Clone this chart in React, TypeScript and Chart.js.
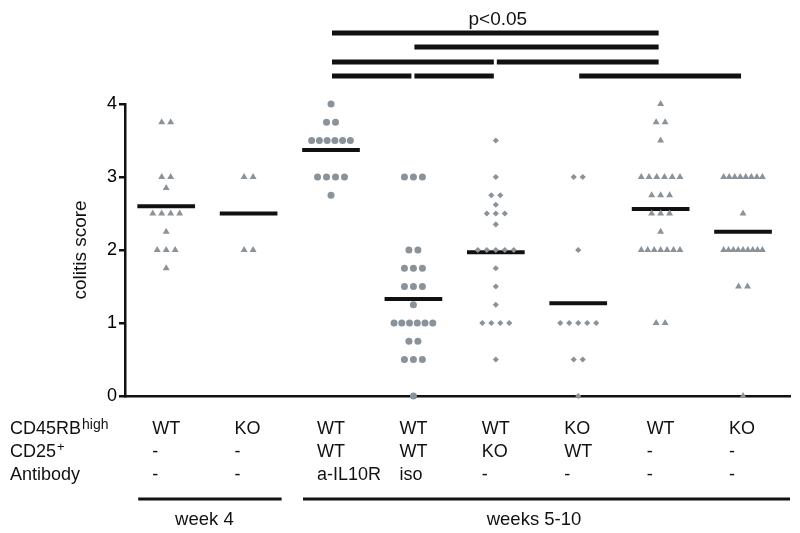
import React, { useEffect, useRef } from 'react';
import { Chart, registerables } from 'chart.js';

Chart.register(...registerables);

// ---------- data ----------
const cd45Labels = ['WT', 'KO', 'WT', 'WT', 'WT', 'KO', 'WT', 'KO'];
const cd25Labels = ['-', '-', 'WT', 'WT', 'KO', 'WT', '-', '-'];
const antibodyLabels = ['-', '-', 'a-IL10R', 'iso', '-', '-', '-', '-'];
const markerShapes = ['triangle', 'triangle', 'circle', 'circle', 'rectRot', 'rectRot', 'triangle', 'triangle'];

const wtWeek4 = [3.75, 3.75, 3, 3, 2.85, 2.5, 2.5, 2.5, 2.5, 2.25, 2, 2, 2, 1.75];
const koWeek4 = [3, 3, 2, 2];
const wtWtAntiIL10R = [4, 3.75, 3.75, 3.5, 3.5, 3.5, 3.5, 3.5, 3.5, 3, 3, 3, 3, 2.75];
const wtWtIso = [3, 3, 3, 2, 2, 1.75, 1.75, 1.75, 1.5, 1.5, 1.5, 1.25, 1, 1, 1, 1, 1, 1, 0.75, 0.75, 0.5, 0.5, 0.5, 0];
const wtKo = [3.5, 3, 2.75, 2.75, 2.62, 2.5, 2.5, 2.5, 2.35, 2, 2, 2, 2, 2, 1.75, 1.5, 1.25, 1, 1, 1, 1, 0.5];
const koWt = [3, 3, 2, 1, 1, 1, 1, 1, 0.5, 0.5, 0];
const wtAlone = [4, 3.75, 3.75, 3.5, 3, 3, 3, 3, 3, 3, 2.75, 2.75, 2.75, 2.5, 2.5, 2.5, 2.25, 2, 2, 2, 2, 2, 2, 2, 1, 1];
const koAlone = [3, 3, 3, 3, 3, 3, 3, 3, 2.5, 2, 2, 2, 2, 2, 2, 2, 2, 2, 1.5, 1.5, 0];
const scores = [wtWeek4, koWeek4, wtWtAntiIL10R, wtWtIso, wtKo, koWt, wtAlone, koAlone];

const groupMeans = [2.6, 2.5, 3.37, 1.33, 1.97, 1.27, 2.56, 2.25];
const yTicks = [0, 1, 2, 3, 4];

const periodLabels = ['week 4', 'weeks 5-10'];
const periodFrom = [0, 2];
const periodTo = [1, 7];

// [groupA, groupB, row]
const comparisons: [number, number, number][] = [
  [2, 6, 0],
  [3, 6, 1],
  [2, 4, 2],
  [4, 6, 2],
  [2, 3, 3],
  [3, 4, 3],
  [5, 7, 3],
];
const significanceLabel = 'p<0.05';

// ---------- layout / style ----------
const FONT = '"Liberation Sans", Arial, Helvetica, sans-serif';
const POINT_COLOR = '#8b939a';
const INK = '#111111';
const STEP = 0.109; // horizontal spacing between tied points (x units)
const CAP = 0.47; // max width of a row of tied points (x units)
const MEAN_HALF = 0.35;
const BAR_ROWS_Y = [33, 47, 62, 76];
const TABLE_ROWS_Y = [434, 457, 480];
const PERIOD_LINE_Y = 499;
const PERIOD_TEXT_Y = 525;

function swarm(values: number[], idx: number) {
  const counts = new Map<number, number>();
  values.forEach((v) => counts.set(v, (counts.get(v) || 0) + 1));
  const seen = new Map<number, number>();
  return values.map((v) => {
    const n = counts.get(v)!;
    const k = seen.get(v) || 0;
    seen.set(v, k + 1);
    const step = n > 1 ? Math.min(STEP, CAP / (n - 1)) : 0;
    return { x: idx + (k - (n - 1) / 2) * step, y: v };
  });
}

const radiusFor = (shape: string) => (shape === 'triangle' ? 4 : shape === 'circle' ? 3.5 : 3.1);

const annotationPlugin = {
  id: 'annotations',
  afterDraw(chart: any) {
    const { ctx, chartArea } = chart;
    const xs = chart.scales.x;
    const px = (v: number) => xs.getPixelForValue(v);
    ctx.save();
    ctx.fillStyle = INK;
    ctx.textBaseline = 'alphabetic';

    // y-axis title
    ctx.save();
    ctx.translate(81, (chartArea.top + chartArea.bottom) / 2);
    ctx.rotate(-Math.PI / 2);
    ctx.textAlign = 'center';
    ctx.textBaseline = 'middle';
    ctx.font = `19px ${FONT}`;
    ctx.fillText('colitis score', 0, 0);
    ctx.restore();

    // significance bars
    comparisons.forEach(([a, b, row]) => {
      const xa = px(a) + 1;
      const xb = px(b) - 2;
      ctx.fillRect(xa, BAR_ROWS_Y[row] - 2.5, xb - xa, 5);
    });
    ctx.textAlign = 'center';
    ctx.font = `19px ${FONT}`;
    const top = comparisons[0];
    ctx.fillText(significanceLabel, (px(top[0]) + px(top[1])) / 2 + 2, 25);

    // row headers
    ctx.textAlign = 'left';
    ctx.font = `18px ${FONT}`;
    ctx.fillText('CD45RB', 10, TABLE_ROWS_Y[0]);
    let w = ctx.measureText('CD45RB').width;
    ctx.font = `14px ${FONT}`;
    ctx.fillText('high', 10 + w + 1, TABLE_ROWS_Y[0] - 5);
    ctx.font = `18px ${FONT}`;
    ctx.fillText('CD25', 10, TABLE_ROWS_Y[1]);
    w = ctx.measureText('CD25').width;
    ctx.font = `13px ${FONT}`;
    ctx.fillText('+', 10 + w + 1, TABLE_ROWS_Y[1] - 6);
    ctx.font = `18px ${FONT}`;
    ctx.fillText('Antibody', 10, TABLE_ROWS_Y[2]);

    // group columns
    const rows = [cd45Labels, cd25Labels, antibodyLabels];
    rows.forEach((labels, r) => {
      labels.forEach((t, i) => {
        ctx.fillText(t, px(i) - 14, TABLE_ROWS_Y[r]);
      });
    });

    // periods
    ctx.font = `18.5px ${FONT}`;
    periodLabels.forEach((label, i) => {
      const x0 = px(periodFrom[i]) - 28;
      const x1 = i === periodLabels.length - 1 ? chartArea.right : px(periodTo[i]) + 33;
      ctx.fillRect(x0, PERIOD_LINE_Y - 1.5, x1 - x0, 3);
      ctx.textAlign = 'center';
      ctx.fillText(label, (px(periodFrom[i]) + px(periodTo[i])) / 2 - 3, PERIOD_TEXT_Y);
    });

    ctx.restore();
  },
};

export default function App() {
  const canvasRef = useRef<HTMLCanvasElement | null>(null);

  useEffect(() => {
    if (!canvasRef.current) return;
    const pointSets = scores.map((vals, i) => ({
      type: 'scatter' as const,
      label: `g${i}`,
      data: swarm(vals, i),
      pointStyle: markerShapes[i] as any,
      pointRadius: radiusFor(markerShapes[i]),
      pointBackgroundColor: POINT_COLOR,
      pointBorderColor: POINT_COLOR,
      pointBorderWidth: 0,
      showLine: false,
      clip: false as any,
      order: 0,
    }));
    const meanSets = groupMeans.map((m, i) => ({
      type: 'line' as const,
      label: `m${i}`,
      data: [
        { x: i - MEAN_HALF, y: m },
        { x: i + MEAN_HALF, y: m },
      ],
      borderColor: INK,
      borderWidth: 4,
      pointRadius: 0,
      fill: false,
      order: 1,
    }));

    const chart = new Chart(canvasRef.current, {
      type: 'scatter',
      data: { datasets: [...pointSets, ...meanSets] as any },
      options: {
        animation: false,
        responsive: false,
        maintainAspectRatio: false,
        layout: { padding: { top: 104, right: 10, bottom: 137, left: 0 } },
        plugins: { legend: { display: false }, tooltip: { enabled: false } },
        scales: {
          x: {
            type: 'linear',
            min: -0.5,
            max: 7.57,
            ticks: { display: false },
            grid: { display: false },
            border: { display: true, color: INK, width: 2.5 },
            afterFit: (s: any) => {
              s.height = 0;
            },
          },
          y: {
            type: 'linear',
            min: 0,
            max: 4,
            afterBuildTicks: (s: any) => {
              s.ticks = yTicks.map((v) => ({ value: v }));
            },
            ticks: {
              color: '#000',
              font: { size: 18, family: FONT },
              padding: 2,
            },
            grid: {
              drawOnChartArea: false,
              drawTicks: true,
              tickLength: 6,
              color: INK,
              lineWidth: 2.5,
            },
            border: { display: true, color: INK, width: 2.5 },
            afterFit: (s: any) => {
              s.width = 125;
            },
          },
        },
      },
      plugins: [annotationPlugin],
    });
    return () => chart.destroy();
  }, []);

  return (
    <div style={{ position: 'fixed', left: 0, top: 0, width: 800, height: 533, background: '#fff' }}>
      <canvas ref={canvasRef} width={800} height={533} style={{ width: 800, height: 533 }} />
    </div>
  );
}
